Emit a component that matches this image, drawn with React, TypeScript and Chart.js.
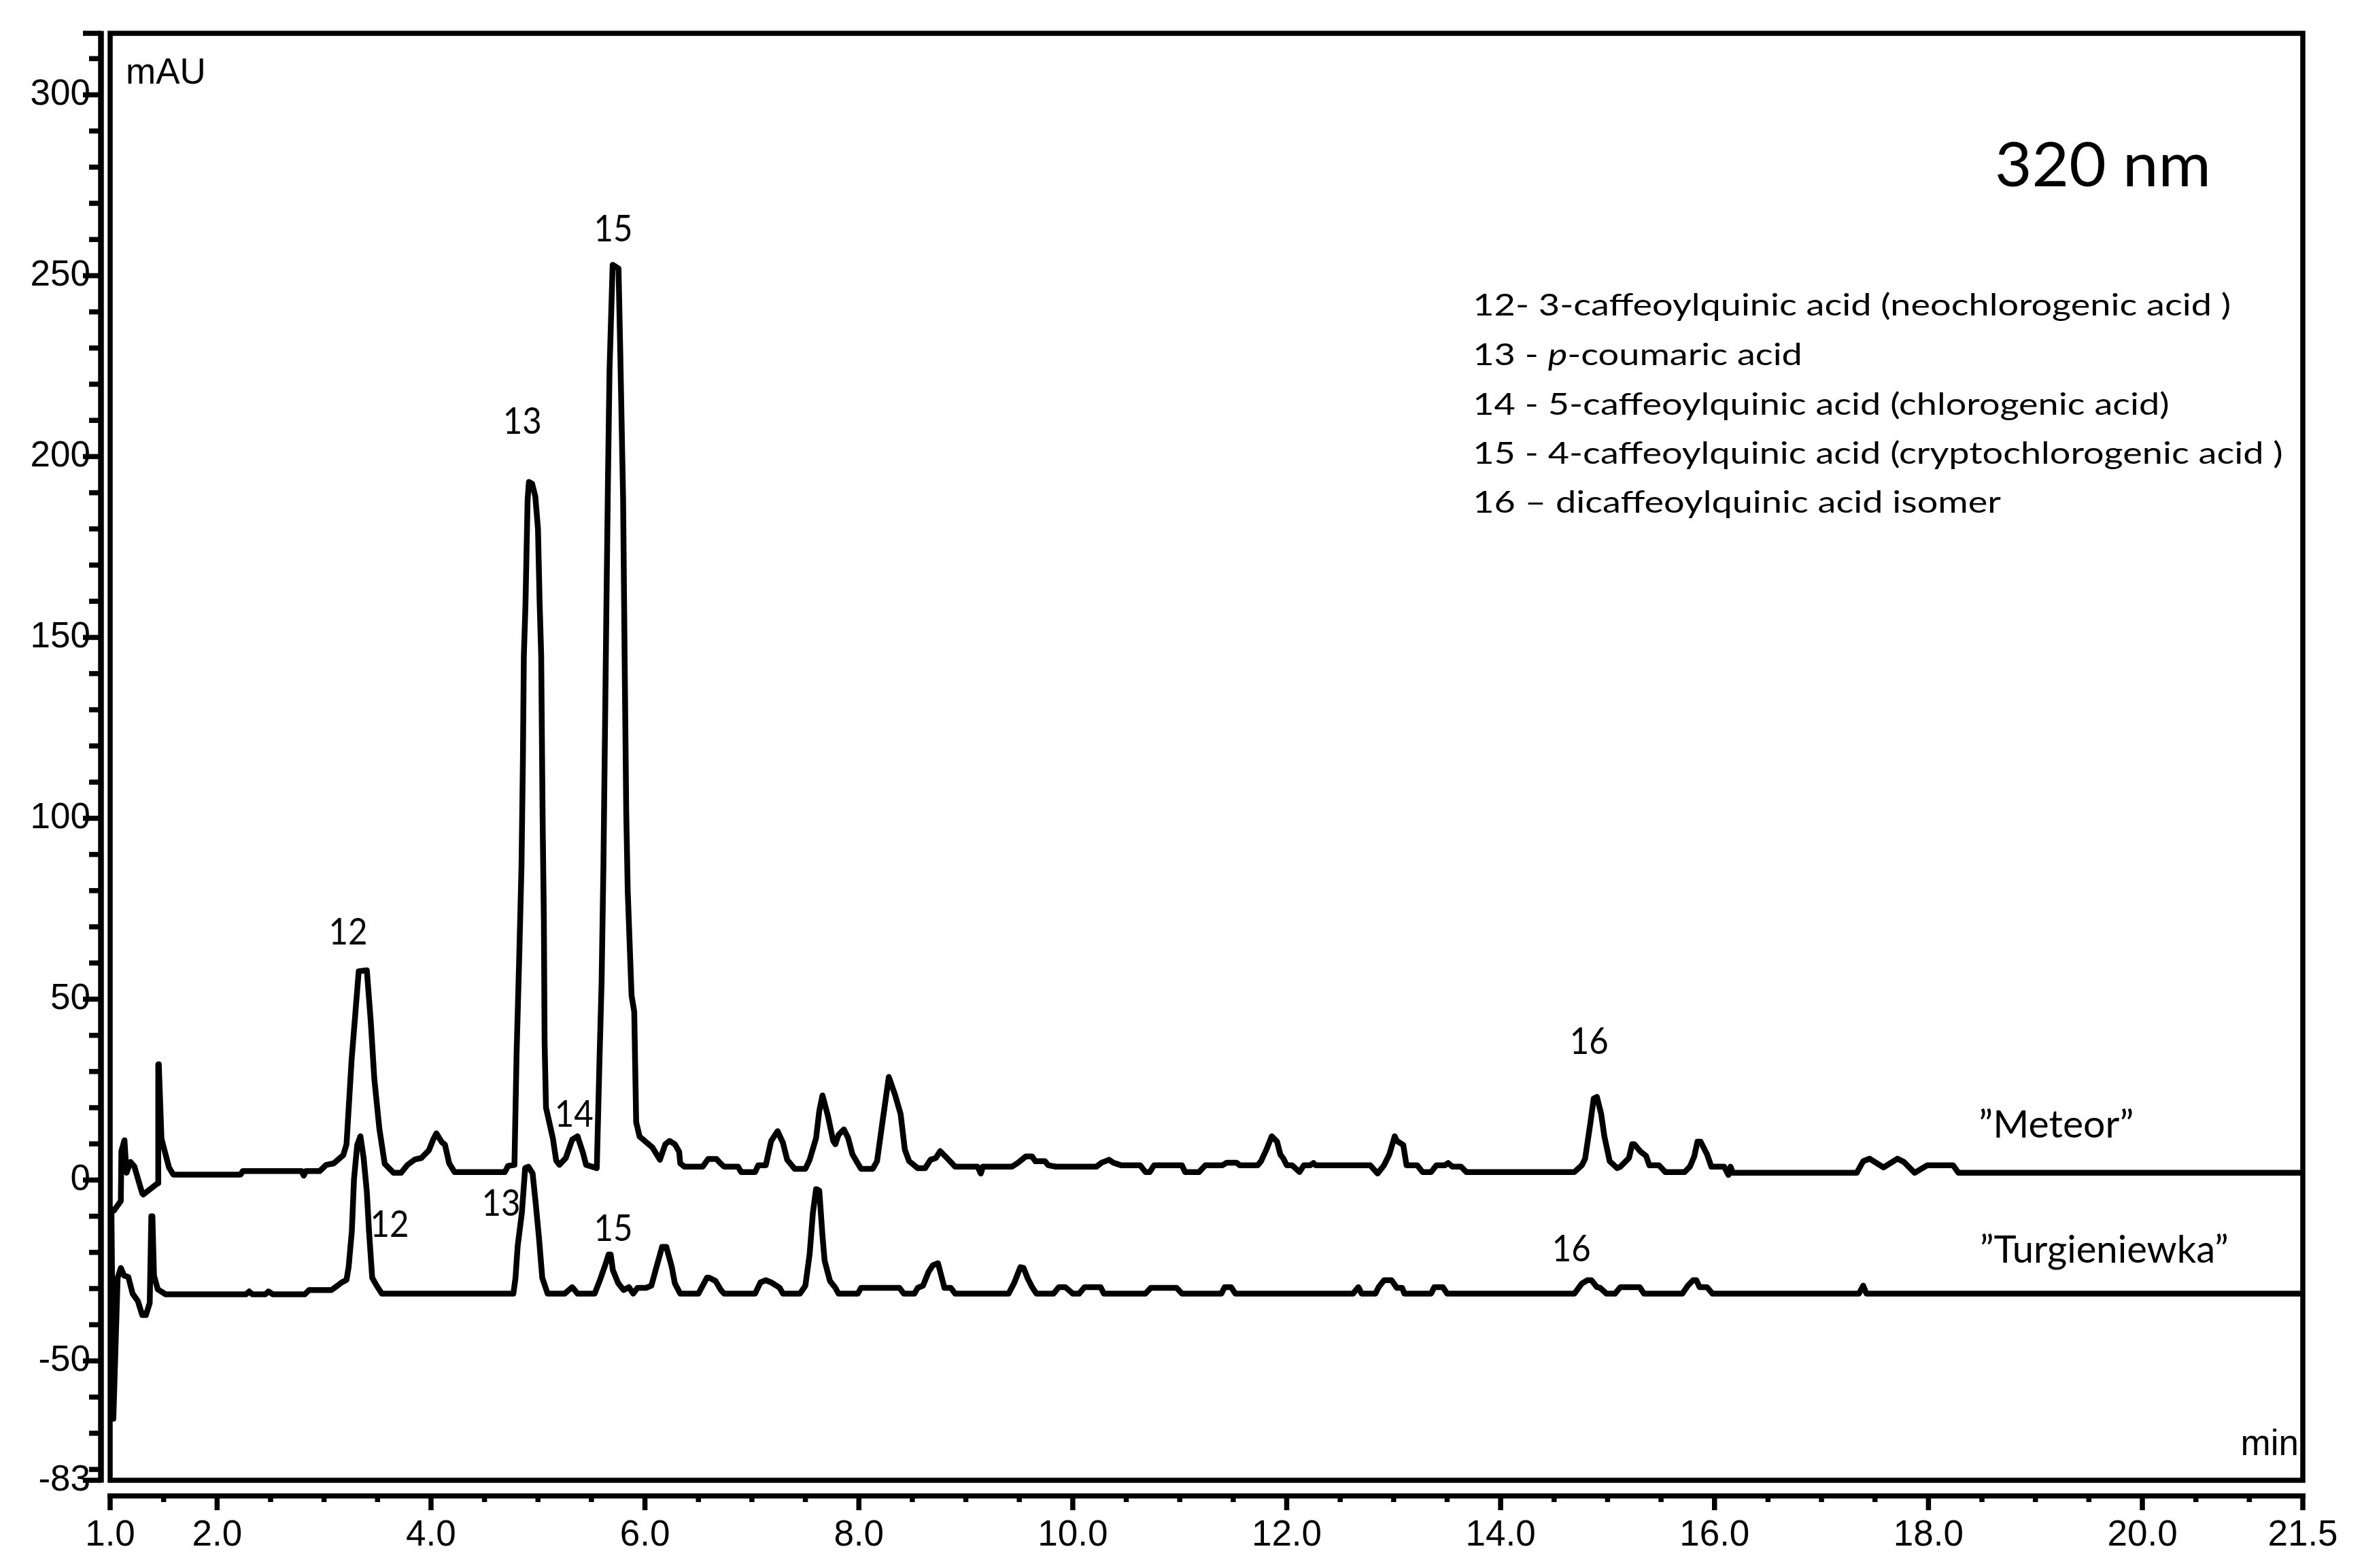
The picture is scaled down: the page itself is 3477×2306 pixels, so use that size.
import { useEffect, useRef } from "react";
import { Chart, registerables } from "chart.js";

Chart.register(...registerables);

// ---------- data ----------
const meteorTime = [
  1.036, 1.1, 1.105, 1.134, 1.153, 1.19, 1.226, 1.3, 1.31, 1.445, 1.45, 1.455, 1.48, 1.55, 1.59,
  2.22, 2.24, 2.79, 2.81, 2.83, 2.96, 3.02, 3.09, 3.18, 3.21, 3.257, 3.324, 3.4, 3.437, 3.47,
  3.517, 3.567, 3.649, 3.72, 3.78, 3.85, 3.91, 3.98, 4.02, 4.05, 4.1, 4.13, 4.17, 4.22, 4.69,
  4.72, 4.78, 4.8, 4.826, 4.846, 4.859, 4.868, 4.883, 4.903, 4.915, 4.945, 4.975, 5.0, 5.016, 5.03, 5.043,
  5.055, 5.062, 5.075, 5.14, 5.17, 5.2, 5.26, 5.32, 5.37, 5.42, 5.45, 5.55, 5.575, 5.595, 5.612,
  5.626, 5.64, 5.655, 5.669, 5.698, 5.753, 5.768, 5.796, 5.81, 5.825, 5.839, 5.86, 5.875, 5.9, 5.918,
  5.95, 6.01, 6.07, 6.14, 6.19, 6.23, 6.28, 6.32, 6.33, 6.37, 6.54, 6.59, 6.67, 6.7, 6.74,
  6.87, 6.9, 7.03, 7.06, 7.13, 7.18, 7.24, 7.29, 7.33, 7.4, 7.5, 7.54, 7.6, 7.63, 7.66,
  7.71, 7.76, 7.78, 7.81, 7.86, 7.9, 7.94, 7.99, 8.02, 8.13, 8.17, 8.22, 8.28, 8.34, 8.39,
  8.43, 8.47, 8.55, 8.62, 8.67, 8.72, 8.76, 8.83, 8.9, 9.11, 9.14, 9.16, 9.43, 9.48, 9.56,
  9.62, 9.65, 9.74, 9.77, 9.84, 10.22, 10.27, 10.34, 10.38, 10.45, 10.63, 10.68, 10.72, 10.76, 11.02,
  11.05, 11.18, 11.24, 11.4, 11.44, 11.53, 11.56, 11.73, 11.76, 11.81, 11.86, 11.91, 11.94, 11.97, 12.0,
  12.05, 12.12, 12.16, 12.22, 12.25, 12.27, 12.78, 12.85, 12.91, 12.96, 13.01, 13.03, 13.09, 13.12, 13.22,
  13.27, 13.35, 13.4, 13.48, 13.51, 13.55, 13.63, 13.68, 14.69, 14.76, 14.79, 14.84, 14.87, 14.9, 14.94,
  14.97, 15.02, 15.09, 15.12, 15.2, 15.23, 15.25, 15.31, 15.36, 15.39, 15.48, 15.54, 15.72, 15.77, 15.81,
  15.84, 15.87, 15.93, 15.97, 16.09, 16.13, 16.15, 16.17, 17.33, 17.39, 17.45, 17.58, 17.71, 17.77, 17.87,
  17.99, 18.23, 18.28, 21.5,
];
const meteorValue = [
  -8.4, -5.8, 8, 11, 2, 5, 3.8, -3.7, -4, -0.9, 32, 32, 11.4, 3.5, 1.5,
  1.5, 2.5, 2.5, 1.2, 2.5, 2.5, 4.2, 4.6, 6.9, 9.9, 33, 57.7, 58, 43.7, 27.9,
  14.2, 4.5, 2.0, 2.0, 4.2, 5.7, 6.1, 8.2, 11.2, 12.9, 10.5, 9.8, 4.6, 2.2, 2.2,
  3.9, 4.2, 35, 63, 87, 116, 145, 159, 188, 193, 192.5, 189, 180, 159, 145, 101,
  72, 38, 20, 11.4, 5.4, 4.2, 6.1, 11.2, 12.1, 7.6, 4.2, 3.3, 33, 55, 87,
  123, 159, 195, 224, 253, 252, 231, 188, 145, 102, 80, 63, 51, 46.5, 16,
  12, 10.5, 9, 5.6, 9.9, 10.8, 9.9, 7.8, 4.6, 3.7, 3.7, 5.8, 5.8, 4.8, 3.7,
  3.7, 2.2, 2.2, 4.1, 4.1, 10.8, 13.5, 10.3, 5.6, 3.1, 3.1, 5.6, 11.6, 19.1, 23.4,
  17.8, 10.8, 9.9, 12.5, 14, 11.6, 7.1, 4.6, 3.1, 3.1, 5.2, 15.9, 28.5, 23.4, 18.3,
  8.4, 5.2, 3.3, 3.3, 5.6, 6.1, 8, 5.9, 3.7, 3.7, 1.8, 3.7, 3.7, 4.6, 6.5,
  6.5, 5.2, 5.2, 4.1, 3.7, 3.7, 4.8, 5.6, 4.8, 4.1, 4.1, 2.2, 2.2, 4.1, 4.1,
  2.2, 2.2, 4.1, 4.1, 4.8, 4.8, 4.1, 4.1, 5.2, 8.4, 12.1, 10.6, 7.1, 5.9, 4.1,
  4.1, 2.2, 4.1, 4.1, 4.7, 4.1, 4.1, 1.8, 4.1, 7.1, 12.1, 10.8, 9.7, 4.1, 4.1,
  2.2, 2.2, 4.1, 4.1, 4.7, 3.7, 3.7, 2.2, 2.2, 4.1, 5.9, 15.9, 22.5, 23, 18.3,
  12.1, 5.2, 3.3, 3.7, 6.1, 9.9, 9.9, 7.8, 6.7, 4.1, 4.1, 2.2, 2.2, 3.7, 6.5,
  10.6, 10.6, 7.1, 3.7, 3.7, 1.4, 3.7, 2.0, 2.0, 5.2, 5.9, 3.5, 5.9, 5.0, 2.0,
  4.1, 4.1, 2.0, 2.0,
];

const turgTime = [
  1.012, 1.03, 1.07, 1.1, 1.13, 1.17, 1.21, 1.26, 1.3, 1.335, 1.37, 1.385, 1.395, 1.41, 1.445,
  1.52, 2.27, 2.3, 2.33, 2.45, 2.48, 2.52, 2.82, 2.86, 3.07, 3.13, 3.16, 3.21, 3.23, 3.26,
  3.28, 3.31, 3.34, 3.37, 3.4, 3.42, 3.45, 3.49, 3.54, 4.77, 4.79, 4.81, 4.85, 4.88, 4.91,
  4.95, 4.98, 5.01, 5.04, 5.09, 5.25, 5.32, 5.37, 5.53, 5.58, 5.63, 5.66, 5.68, 5.7, 5.75,
  5.8, 5.85, 5.89, 5.93, 6.01, 6.06, 6.1, 6.16, 6.2, 6.25, 6.28, 6.33, 6.5, 6.58, 6.6,
  6.66, 6.71, 6.74, 7.03, 7.08, 7.13, 7.18, 7.23, 7.26, 7.29, 7.45, 7.5, 7.54, 7.57, 7.6,
  7.63, 7.66, 7.68, 7.73, 7.78, 7.81, 7.99, 8.02, 8.38, 8.42, 8.52, 8.55, 8.6, 8.65, 8.69,
  8.74, 8.8, 8.86, 8.9, 9.4, 9.45, 9.51, 9.54, 9.58, 9.62, 9.66, 9.82, 9.87, 9.93, 10.0,
  10.06, 10.11, 10.26, 10.29, 10.68, 10.73, 10.97, 11.02, 11.39, 11.42, 11.48, 11.52, 12.62, 12.67, 12.7,
  12.83, 12.86, 12.91, 12.98, 13.03, 13.08, 13.1, 13.35, 13.38, 13.46, 13.5, 14.69, 14.76, 14.81, 14.85,
  14.9, 14.93, 14.99, 15.07, 15.12, 15.3, 15.34, 15.7, 15.75, 15.8, 15.83, 15.86, 15.93, 15.98, 17.35,
  17.39, 17.42, 21.5,
];
const turgValue = [
  -8, -66, -27, -24.3, -26.4, -26.8, -31.4, -33.5, -37.3, -37.3, -34, -10, -10, -26.4, -30.2,
  -31.6, -31.6, -30.8, -31.6, -31.6, -30.8, -31.6, -31.6, -30.4, -30.4, -29.1, -28.4, -27.6, -24, -14,
  0.3, 9.7, 12.1, 6.1, -3.3, -14, -27, -29.1, -31.4, -31.4, -27, -18.3, -8.9, 3.3, 3.7,
  1.8, -6.8, -16.2, -27, -31.4, -31.4, -29.6, -31.4, -31.4, -27.6, -23.4, -20.6, -20.6, -24.9, -28.5,
  -30.4, -29.6, -31.4, -29.8, -29.8, -29.2, -24.9, -18.5, -18.5, -23.9, -28.6, -31.4, -31.4, -27, -27,
  -27.9, -30.4, -31.4, -31.4, -28.3, -27.7, -28.3, -29.2, -29.8, -31.4, -31.4, -29.2, -20.4, -9.1, -2.5,
  -2.9, -15.5, -22.3, -27.9, -29.8, -31.4, -31.4, -29.8, -29.8, -31.4, -31.4, -29.8, -29.2, -25.5, -23.6,
  -23, -29.8, -29.8, -31.4, -31.4, -28.6, -24.1, -24.3, -27.3, -29.6, -31.4, -31.4, -29.6, -29.6, -31.4,
  -31.4, -29.6, -29.6, -31.4, -31.4, -29.8, -29.8, -31.4, -31.4, -29.6, -29.6, -31.4, -31.4, -29.6, -31.4,
  -31.4, -29.6, -27.7, -27.7, -29.8, -29.8, -31.4, -31.4, -29.6, -29.6, -31.4, -31.4, -28.6, -27.7, -27.7,
  -29.6, -29.8, -31.4, -31.4, -29.6, -29.6, -31.4, -31.4, -29.2, -27.7, -27.7, -29.6, -29.6, -31.4, -31.4,
  -29.2, -31.4, -31.4,
];

const xMajorTicks = [1.0, 2.0, 4.0, 6.0, 8.0, 10.0, 12.0, 14.0, 16.0, 18.0, 20.0, 21.5];
const yMajorTicks = [-83, -50, 0, 50, 100, 150, 200, 250, 300];
const X_MIN = 1.0;
const X_MAX = 21.5;
const Y_MIN = -83;
const Y_MAX = 317;

// annotation texts, anchored in data coordinates (t = min, v = mAU)
const peakLabels = [
  { text: "15", t: 5.704, v: 263.1 },
  { text: "13", t: 4.853, v: 209.9 },
  { text: "12", t: 3.225, v: 68.7 },
  { text: "14", t: 5.336, v: 18.5 },
  { text: "12", t: 3.613, v: -12.1 },
  { text: "13", t: 4.655, v: -6.3 },
  { text: "15", t: 5.704, v: -13.1 },
  { text: "16", t: 14.827, v: 38.6 },
  { text: "16", t: 14.662, v: -18.9 },
];
const sampleLabels = [
  { text: "\u201DMeteor\u201D", t: 18.47, v: 15.5, width: 228 },
  { text: "\u201DTurgieniewka\u201D", t: 18.48, v: -19.1, width: 366 },
];
const legendLines = [
  [{ text: "12- 3-caffeoylquinic acid (neochlorogenic acid )" }],
  [{ text: "13 - " }, { text: "p", italic: true }, { text: "-coumaric acid" }],
  [{ text: "14 - 5-caffeoylquinic acid (chlorogenic acid)" }],
  [{ text: "15 - 4-caffeoylquinic acid (cryptochlorogenic acid )" }],
  [{ text: "16 \u2013 dicaffeoylquinic acid isomer" }],
];
const legendT = 13.74;
const legendV = [242.0, 228.3, 214.6, 201.0, 187.5];
const wavelengthLabel = { text: "320 nm", t: 18.62, v: 280.9, width: 318 };

const CAL = "Lato, 'Open Sans', sans-serif";
const ARIAL = "'Liberation Sans', Arial, sans-serif";

function drawFit(
  ctx: CanvasRenderingContext2D,
  text: string,
  x: number,
  cy: number,
  font: string,
  align: "left" | "center" | "right",
  width?: number,
  sxIn?: number
) {
  ctx.font = font;
  const m = ctx.measureText(text);
  const capH = ctx.measureText("H").actualBoundingBoxAscent;
  const sx = width ? width / m.width : sxIn ?? 1;
  const w = m.width * sx;
  const left = align === "left" ? x : align === "center" ? x - w / 2 : x - w;
  ctx.save();
  ctx.translate(left, cy + capH / 2);
  ctx.scale(sx, 1);
  ctx.textAlign = "left";
  ctx.textBaseline = "alphabetic";
  ctx.fillText(text, 0, 0);
  ctx.restore();
  return sx;
}

const framePlugin = {
  id: "frameAxes",
  afterDatasetsDraw(chart: any) {
    const { ctx, chartArea: a, scales } = chart;
    const xs = scales.x;
    const ys = scales.y;
    const line = (x1: number, y1: number, x2: number, y2: number) => {
      ctx.beginPath();
      ctx.moveTo(x1, y1);
      ctx.lineTo(x2, y2);
      ctx.stroke();
    };
    ctx.save();
    ctx.strokeStyle = "#000";
    ctx.lineCap = "butt";
    ctx.lineWidth = 7.5;
    ctx.strokeRect(a.left, a.top, a.right - a.left, a.bottom - a.top);

    // offset y axis
    const ax = a.left - 13.5;
    ctx.lineWidth = 8.5;
    line(ax, a.top - 3.5, ax, a.bottom + 3.5);
    ctx.lineWidth = 7.5;
    const yMaj = [...yMajorTicks, Y_MAX];
    yMaj.forEach((v) => {
      const py = ys.getPixelForValue(v);
      line(a.left - 40, py, ax, py);
    });
    for (let v = -80; v <= 310; v += 10) {
      if (v % 50 === 0) continue;
      const py = ys.getPixelForValue(v);
      line(a.left - 31, py, ax, py);
    }

    // offset x axis
    const ay = a.bottom + 23;
    line(a.left - 4, ay, a.right + 4, ay);
    xMajorTicks.forEach((t) => {
      const px = xs.getPixelForValue(t);
      line(px, ay, px, ay + 21);
    });
    for (let t = X_MIN + 0.5; t < X_MAX; t += 0.5) {
      if (xMajorTicks.some((m) => Math.abs(m - t) < 1e-6)) continue;
      const px = xs.getPixelForValue(t);
      line(px, ay, px, ay + 9);
    }
    ctx.restore();
  },
  afterDraw(chart: any) {
    const { ctx, chartArea: a, scales } = chart;
    const xs = scales.x;
    const ys = scales.y;
    ctx.save();
    ctx.fillStyle = "#000";

    // axis unit labels
    ctx.font = `53px ${ARIAL}`;
    ctx.textBaseline = "alphabetic";
    ctx.textAlign = "left";
    ctx.fillText("mAU", a.left + 23, a.top + 74);
    ctx.textAlign = "right";
    ctx.fillText("min", a.right - 6, a.bottom - 37);

    // peak labels
    peakLabels.forEach((p) => {
      drawFit(ctx, p.text, xs.getPixelForValue(p.t), ys.getPixelForValue(p.v), `55px ${CAL}`, "center", 57);
    });

    // sample names
    sampleLabels.forEach((s) => {
      drawFit(ctx, s.text, xs.getPixelForValue(s.t), ys.getPixelForValue(s.v), `57px ${CAL}`, "left", s.width);
    });

    // wavelength
    drawFit(
      ctx,
      wavelengthLabel.text,
      xs.getPixelForValue(wavelengthLabel.t),
      ys.getPixelForValue(wavelengthLabel.v),
      `92px ${CAL}`,
      "left",
      wavelengthLabel.width
    );

    // compound list
    const size = 45;
    ctx.font = `${size}px ${CAL}`;
    const first = legendLines[0].map((s) => s.text).join("");
    const sx = 1115 / ctx.measureText(first).width;
    const x0 = xs.getPixelForValue(legendT);
    legendLines.forEach((segs, i) => {
      const cy = ys.getPixelForValue(legendV[i]);
      let x = x0;
      segs.forEach((s: any) => {
        const font = `${s.italic ? "italic " : ""}${size}px ${CAL}`;
        ctx.font = font;
        const w = ctx.measureText(s.text).width * sx;
        drawFit(ctx, s.text, x, cy, font, "left", undefined, sx);
        x += w;
      });
    });
    ctx.restore();
  },
};

export default function App() {
  const ref = useRef<HTMLCanvasElement | null>(null);
  useEffect(() => {
    document.body.style.margin = "0";
    document.body.style.overflow = "hidden";
    const canvas = ref.current;
    if (!canvas) return;
    const chart = new Chart(canvas, {
      type: "line",
      data: {
        datasets: [
          {
            label: "Meteor",
            data: meteorTime.map((t, i) => ({ x: t, y: meteorValue[i] })),
            borderColor: "#000",
            borderWidth: 8.5,
            pointRadius: 0,
            tension: 0,
            borderJoinStyle: "round",
            borderCapStyle: "round",
          },
          {
            label: "Turgieniewka",
            data: turgTime.map((t, i) => ({ x: t, y: turgValue[i] })),
            borderColor: "#000",
            borderWidth: 8.5,
            pointRadius: 0,
            tension: 0,
            borderJoinStyle: "round",
            borderCapStyle: "round",
          },
        ],
      },
      options: {
        animation: false,
        responsive: false,
        devicePixelRatio: 1,
        layout: { padding: { left: 0, top: 49, right: 90, bottom: 0 } },
        plugins: {
          legend: { display: false },
          tooltip: { enabled: false },
          title: { display: false },
        },
        scales: {
          x: {
            type: "linear",
            min: X_MIN,
            max: X_MAX,
            grid: { display: false, drawTicks: false },
            border: { display: false },
            afterBuildTicks: (s: any) => {
              s.ticks = xMajorTicks.map((v) => ({ value: v }));
            },
            afterFit: (s: any) => {
              s.height = 129;
              s.paddingLeft = 0;
              s.paddingRight = 0;
            },
            ticks: {
              callback: (v: any) => Number(v).toFixed(1),
              font: { family: "'Liberation Sans', Arial, sans-serif", size: 53 },
              color: "#000",
              padding: 50,
              maxRotation: 0,
              autoSkip: false,
            },
          },
          y: {
            type: "linear",
            min: Y_MIN,
            max: Y_MAX,
            grid: { display: false, drawTicks: false },
            border: { display: false },
            afterBuildTicks: (s: any) => {
              s.ticks = yMajorTicks.map((v) => ({ value: v }));
            },
            afterFit: (s: any) => {
              s.width = 162;
              s.paddingTop = 0;
              s.paddingBottom = 0;
            },
            ticks: {
              callback: (v: any) => String(v),
              font: { family: "'Liberation Sans', Arial, sans-serif", size: 53 },
              color: "#000",
              padding: 29,
              autoSkip: false,
            },
          },
        },
      },
      plugins: [framePlugin],
    } as any);
    return () => chart.destroy();
  }, []);
  return (
    <div style={{ position: "absolute", left: 0, top: 0, width: 3477, height: 2306, background: "#fff" }}>
      <canvas ref={ref} width={3477} height={2306} style={{ display: "block" }} />
    </div>
  );
}
